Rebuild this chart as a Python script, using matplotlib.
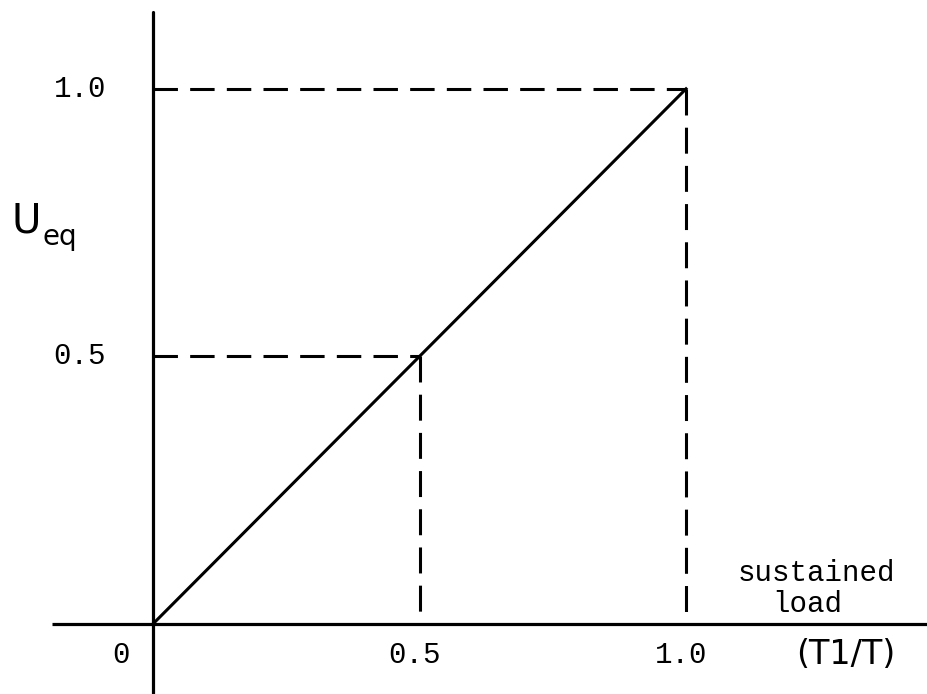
import matplotlib
matplotlib.use("Agg")
import matplotlib.pyplot as plt

# straight line of U_eq against T1/T
line_x = [0.0, 1.0]
line_y = [0.0, 1.0]

# dashed guide levels
guide_levels = [0.5, 1.0]

x_ticks = [0.0, 0.5, 1.0]
x_tick_labels = ['0', '0.5', '1.0']
y_ticks = [0.5, 1.0]
y_tick_labels = ['0.5', '1.0']

mono = 'Liberation Mono'
sans = 'DejaVu Sans'

fig = plt.figure(figsize=(9.27, 6.94), dpi=100)
ax = fig.add_axes([0, 0, 1, 1])
ax.set_xlim(-0.287, 1.452)
ax.set_ylim(-0.131, 1.166)
ax.axis('off')

# axes drawn by hand, crossing at the origin
ax.plot([-0.19, 1.452], [0, 0], color='black', lw=2.3, solid_capstyle='butt')
ax.plot([0, 0], [-0.131, 1.144], color='black', lw=2.3, solid_capstyle='round')

# dashed guides
for lev in guide_levels:
    ax.plot([0, lev], [lev, lev], color='black', lw=2.2, dashes=(8.0, 4.0))
    ax.plot([lev, lev], [lev, 0], color='black', lw=2.2, dashes=(8.5, 4.0))

ax.plot(line_x, line_y, color='black', lw=2.2)

# tick labels
for xt, lab in zip(x_ticks, x_tick_labels):
    xpos = xt - 0.06 if xt == 0 else xt - 0.01
    ax.text(xpos, -0.058, lab, fontsize=21, family=mono, ha='center', va='center')
for yt, lab in zip(y_ticks, y_tick_labels):
    ax.text(-0.137, yt, lab, fontsize=21, family=mono, ha='center', va='center')

ax.text(1.30, -0.058, '(T1/T)', fontsize=24, family=sans, ha='center', va='center')
ax.text(1.245, 0.096, 'sustained', fontsize=21, family=mono, ha='center', va='center')
ax.text(1.228, 0.038, 'load', fontsize=21, family=mono, ha='center', va='center')

# y axis label U_eq
ax.text(-0.265, 0.731, 'U', fontsize=29, family=sans, ha='left', va='baseline')
ax.text(-0.207, 0.708, 'eq', fontsize=20, family=sans, ha='left', va='baseline')

fig.savefig('out.png', dpi=100)
